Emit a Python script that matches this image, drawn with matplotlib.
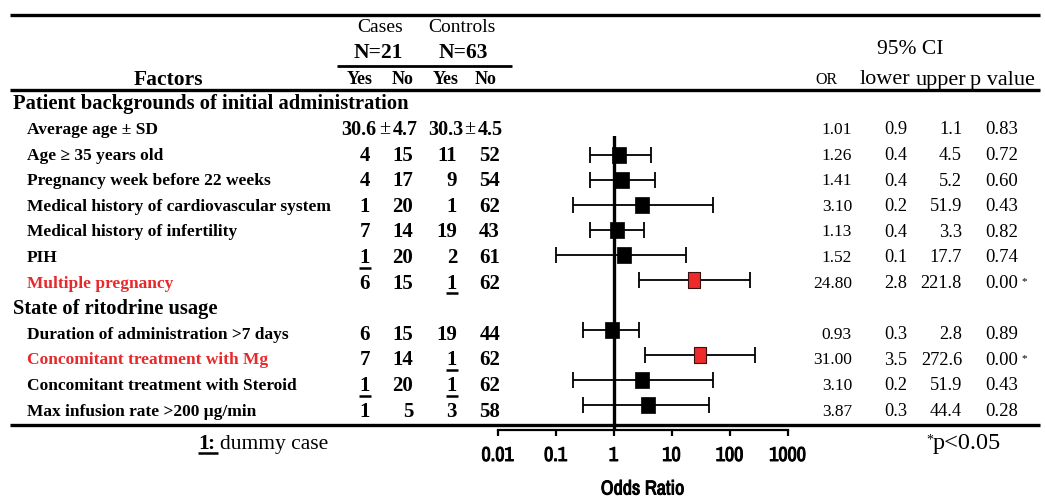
import matplotlib
matplotlib.use('Agg')
import matplotlib.pyplot as plt
import matplotlib.patheffects as pe
from matplotlib import font_manager
from matplotlib.ticker import NullLocator, FixedLocator, FixedFormatter

# ---------------- data ----------------
section_titles = ["Patient backgrounds of initial administration",
                  "State of ritodrine usage"]
factors = ["Average age \u00b1 SD",
           "Age \u2265 35 years old",
           "Pregnancy week before 22 weeks",
           "Medical history of cardiovascular system",
           "Medical history of infertility",
           "PIH",
           "Multiple pregnancy",
           "Duration of administration >7 days",
           "Concomitant treatment with Mg",
           "Concomitant treatment with Steroid",
           "Max infusion rate >200 \u03bcg/min"]
section_index = [0, 0, 0, 0, 0, 0, 0, 1, 1, 1, 1]
cases_yes = [None, 4, 4, 1, 7, 1, 6, 6, 7, 1, 1]
cases_no = [None, 15, 17, 20, 14, 20, 15, 15, 14, 20, 5]
controls_yes = [None, 11, 9, 1, 19, 2, 1, 19, 1, 1, 3]
controls_no = [None, 52, 54, 62, 43, 61, 62, 44, 62, 62, 58]
dummy_cases_yes = [False, False, False, False, False, True, False, False, False, True, False]
dummy_controls_yes = [False, False, False, False, False, False, True, False, True, True, False]
age_cases = (30.6, 4.7)
age_controls = (30.3, 4.5)
odds_ratio = [1.01, 1.26, 1.41, 3.10, 1.13, 1.52, 24.80, 0.93, 31.00, 3.10, 3.87]
ci_lower = [0.9, 0.4, 0.4, 0.2, 0.4, 0.1, 2.8, 0.3, 3.5, 0.2, 0.3]
ci_upper = [1.1, 4.5, 5.2, 51.9, 3.3, 17.7, 221.8, 2.8, 272.6, 51.9, 44.4]
p_values = [0.83, 0.72, 0.60, 0.43, 0.82, 0.74, 0.00, 0.89, 0.00, 0.43, 0.28]
show_marker = [False] + [True] * 10
axis_ticks = [0.01, 0.1, 1, 10, 100, 1000]
axis_tick_labels = ["0.01", "0.1", "1", "10", "100", "1000"]
alpha = 0.05

# ---------------- style ----------------
RED = '#E8292B'
SERIF = ['Liberation Serif', 'DejaVu Serif']
_names = sorted({f.name for f in font_manager.fontManager.ttflist})
_narrow = [n for n in _names if 'Narrow' in n] + \
          [n for n in _names if 'Condensed' in n and 'DejaVu' not in n] + \
          [n for n in _names if 'DejaVu Sans' in n and 'Condensed' in n]
NARROW = _narrow[:1] + ['Liberation Sans', 'DejaVu Sans']
FAKE_BOLD = [pe.withStroke(linewidth=0.7, foreground='black')]

W, H = 1045, 500
fig = plt.figure(figsize=(W / 100, H / 100), dpi=100)
bg = fig.add_axes([0, 0, 1, 1])
bg.set_xlim(0, W)
bg.set_ylim(H, 0)
bg.axis('off')


def ty(r):
    return 104.4 + 25.6 * r


def txt(x, y, s, size, weight='normal', ha='left', color='black', va='center'):
    bg.text(x, y, s, fontsize=size, fontweight=weight, ha=ha, va=va,
            color=color, family=SERIF)


def uline(x0, x1, y, lw=1.8):
    bg.plot([x0, x1], [y, y], color='black', lw=lw, solid_capstyle='butt')


# rules
uline(10, 1040, 15, lw=2.4)
uline(10, 1040, 90, lw=2.4)
uline(10, 1040, 425, lw=2.4)
uline(337, 512, 66, lw=2.0)

# headers
txt(380, 28, "Cases", 14, ha='center')
txt(462, 28, "Controls", 14, ha='center')
txt(378, 53, "N=21", 15.5, 'bold', ha='center')
txt(463, 53, "N=63", 15.5, 'bold', ha='center')
txt(168, 80, "Factors", 15.5, 'bold', ha='center')
for xc, s in zip([360, 403, 446, 486], ["Yes", "No", "Yes", "No"]):
    txt(xc, 80, s, 13, 'bold', ha='center')
txt(910, 50, "95% CI", 15.5, ha='center')
txt(826, 80, "OR", 11.5, ha='center')
txt(885, 80, "lower", 16, ha='center')
txt(941, 80, "upper", 16, ha='center')
txt(1002, 80, "p value", 16, ha='center')

# build rows
rows = []
prev = None
for i, s in enumerate(section_index):
    if s != prev:
        rows.append(('head', s))
        prev = s
    rows.append(('item', i))

item_row = {}
for r, (kind, idx) in enumerate(rows):
    y = ty(r)
    if kind == 'head':
        txt(13, y, section_titles[idx], 14.8, 'bold')
        continue
    item_row[idx] = r
    sig = p_values[idx] < alpha
    col = RED if sig else 'black'
    txt(27, y, factors[idx], 12.5, 'bold', color=col)
    if cases_yes[idx] is None:
        txt(376, y, f"{age_cases[0]:.1f}", 14.5, 'bold', ha='right')
        txt(385, y, "\u00b1", 14.5, ha='center')
        txt(393, y, f"{age_cases[1]:.1f}", 14.5, 'bold')
        txt(463, y, f"{age_controls[0]:.1f}", 14.5, 'bold', ha='right')
        txt(470, y, "\u00b1", 14.5, ha='center')
        txt(478, y, f"{age_controls[1]:.1f}", 14.5, 'bold')
    else:
        txt(365, y, str(cases_yes[idx]), 15, 'bold', ha='center')
        txt(413, y, str(cases_no[idx]), 15, 'bold', ha='right')
        txt(457, y, str(controls_yes[idx]), 15, 'bold', ha='right')
        txt(500, y, str(controls_no[idx]), 15, 'bold', ha='right')
        if dummy_cases_yes[idx]:
            uline(359, 371, y + 9.5)
        if dummy_controls_yes[idx]:
            uline(446, 458, y + 9.5)
    # right table
    txt(852, y, f"{odds_ratio[idx]:.2f}", 12.5, ha='right')
    txt(907, y, f"{ci_lower[idx]:.1f}", 13.2, ha='right')
    txt(962, y, f"{ci_upper[idx]:.1f}", 13.2, ha='right')
    txt(985, y, f"{p_values[idx]:.2f}", 13.5)
    if sig:
        txt(1021, y - 2, "*", 8)

# footnotes
txt(198, 444, "1", 15.5, 'bold')
txt(207, 444, ":", 15.5, 'bold')
uline(198, 218, 453)
txt(220, 444, "dummy case", 15.5)
txt(926, 440, "*", 10)
txt(933, 444, "p<0.05", 17.5)

# ---------------- forest plot ----------------
left, right = 497.5, 787.5
top, bottom = 136, 430
ax = fig.add_axes([left / W, (H - bottom) / H, (right - left) / W, (bottom - top) / H])
ax.patch.set_visible(False)
ax.set_xscale('log')
ax.set_xlim(axis_ticks[0], axis_ticks[-1])
ax.set_ylim(13.0, 1.24)
ax.axvline(1, color='black', lw=2.4, zorder=1)

rect = [(-0.8, -1), (0.8, -1), (0.8, 1), (-0.8, 1), (-0.8, -1)]
for idx in range(len(factors)):
    if not show_marker[idx]:
        continue
    r = item_row[idx]
    orv = odds_ratio[idx]
    sig = p_values[idx] < alpha
    ax.errorbar([orv], [r], xerr=[[orv - ci_lower[idx]], [ci_upper[idx] - orv]],
                fmt='none', ecolor='black', elinewidth=1.3, capsize=5.5,
                capthick=1.3, zorder=2)
    if sig:
        ax.plot([orv], [r], marker=rect, markersize=11, color='#EE2A2A',
                markeredgecolor='#3a1010', markeredgewidth=0.8, zorder=3)
    else:
        ax.plot([orv], [r], marker=rect, markersize=11.8, color='black',
                markeredgecolor='black', markeredgewidth=0.5, zorder=3)

for s in ['top', 'right', 'left']:
    ax.spines[s].set_visible(False)
ax.spines['bottom'].set_linewidth(1.6)
ax.set_yticks([])
ax.xaxis.set_major_locator(FixedLocator(axis_ticks))
ax.xaxis.set_major_formatter(FixedFormatter(axis_tick_labels))
ax.xaxis.set_minor_locator(NullLocator())
ax.tick_params(axis='x', direction='out', length=4.5, width=1.6, pad=7,
               labelsize=14.5)
for lab in ax.get_xticklabels():
    lab.set_family(NARROW)
    lab.set_fontweight('bold')
    lab.set_path_effects(FAKE_BOLD)
ax.set_xlabel("Odds Ratio", fontsize=14.5, fontweight='bold', family=NARROW,
              path_effects=FAKE_BOLD)
ax.xaxis.set_label_coords(0.5, -(489 - bottom) / (bottom - top))
ax.xaxis.label.set_va('center')

fig.savefig('out.png', dpi=100)
